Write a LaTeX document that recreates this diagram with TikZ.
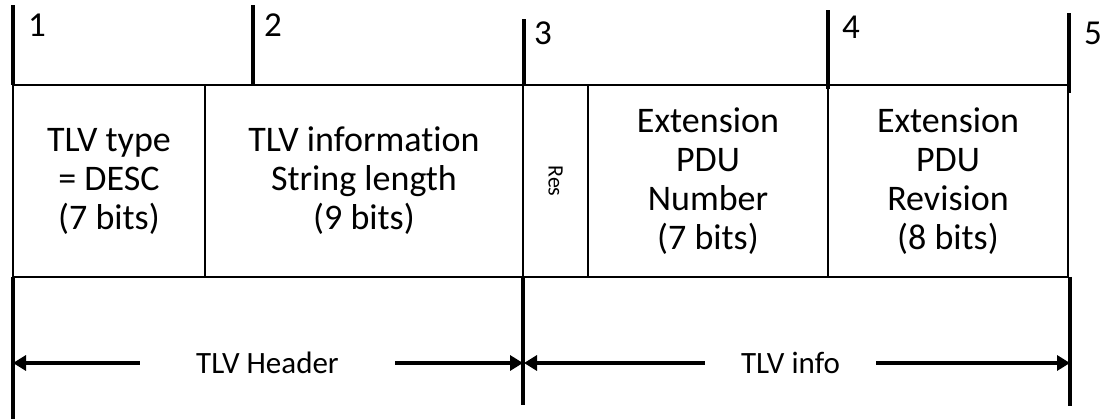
\documentclass[tikz,border=0pt]{standalone}
\usepackage{fontspec}
\setmainfont{Carlito}[Ligatures=NoCommon]
\usetikzlibrary{positioning,arrows.meta}

\tikzstyle{field} = [rectangle, draw, line width=2pt, minimum height=192pt, outer sep=0pt, inner sep=0pt, align=center, font=\fontsize{36}{39}\selectfont]
\tikzstyle{bitmark} = [draw, line width=3.5pt]
\tikzstyle{bound} = [draw, line width=3.5pt]
\tikzstyle{digit} = [anchor=base west, inner sep=0pt, font=\fontsize{35}{40}\selectfont]
\tikzstyle{spanlabel} = [inner sep=0pt, font=\fontsize{31}{38}\selectfont]
\tikzstyle{dimline} = [draw, line width=4pt, -{Triangle[length=13pt,width=15pt]}]

\begin{document}
\begin{tikzpicture}[x=1pt, y=-1pt]
  \useasboundingbox (0,0) rectangle (1101,419);

  % the five fields of the TLV
  \node[field, minimum width=192pt, anchor=north west] (type) at (13,85) {TLV type\\ = DESC\\ (7 bits)};
  \node[field, minimum width=318pt, right=0pt of type] (length) {TLV information\\ String length\\ (9 bits)};
  \node[field, minimum width=65pt, right=0pt of length] (res) {};
  \node[rotate=-90, font=\fontsize{22}{26}\selectfont] (reslabel) at (res) {Res};
  \node[field, minimum width=240pt, right=0pt of res] (number) {Extension\\ PDU\\ Number\\ (7 bits)};
  \node[field, minimum width=240pt, right=0pt of number] (revision) {Extension\\ PDU\\ Revision\\ (8 bits)};

  % octet marks on top
  \draw[bitmark] (13,85) -- (13,5);
  \draw[bitmark] (253,85) -- (253,5);
  \draw[bitmark] (524,86) -- (524,19);
  \draw[bitmark] (828,89) -- (828,10);
  \draw[bitmark] (1069,93) -- (1069,13);
  \node[digit] (oct1) at (28,37) {1};
  \node[digit] (oct2) at (264,37) {2};
  \node[digit] (oct3) at (534,45) {3};
  \node[digit] (oct4) at (842,39) {4};
  \node[digit] (oct5) at (1084,45) {5};

  % span boundaries below
  \draw[bound] (type.south west) -- ++(0,142);
  \draw[bound] (res.south west) -- ++(0,128);
  \draw[bound] (revision.south east) ++(2,0) -- ++(0,129);

  % header and info spans
  \coordinate (hdrL) at (13,363);
  \coordinate (hdrR) at (523,363);
  \coordinate (infoL) at (524,363);
  \coordinate (infoR) at (1070,363);
  \node[spanlabel, minimum width=255pt] (hdr) at (267.5,363) {TLV Header};
  \node[spanlabel, minimum width=171pt] (info) at (790.5,363) {TLV info};

  \path[dimline] (hdr) -- (hdrL);
  \path[dimline] (hdr) -- (hdrR);
  \path[dimline] (info) -- (infoL);
  \path[dimline] (info) -- (infoR);

\end{tikzpicture}
\end{document}
